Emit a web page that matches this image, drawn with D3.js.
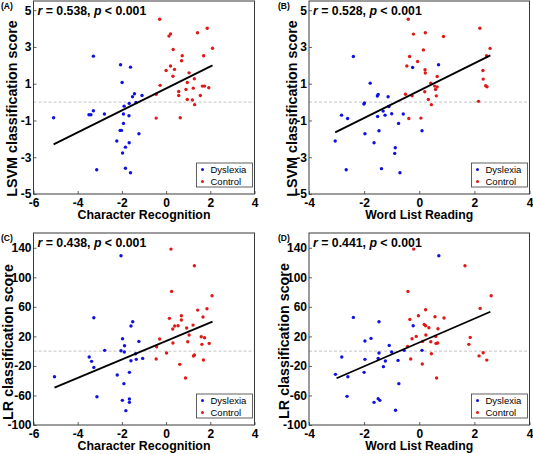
<!DOCTYPE html>
<html>
<head>
<meta charset="utf-8">
<script src="https://cdn.jsdelivr.net/npm/d3@7/dist/d3.min.js"></script>
<style>
  html, body { margin: 0; padding: 0; background: #fff; }
  svg { display: block; }
  text { font-family: "Liberation Sans", Arial, Helvetica, sans-serif; }
</style>
</head>
<body>
<svg id="chart" width="533" height="454"></svg>
<script>
// ---------------- DATA ----------------
const panelLabels = ["(A)", "(B)", "(C)", "(D)"];
const rValues = ["0.538", "0.528", "0.438", "0.441"];
const pText = "0.001";
const xTitles = ["Character Recognition", "Word List Reading", "Character Recognition", "Word List Reading"];
const yTitles = ["LSVM classification score", "LSVM classification score", "LR classification score", "LR classification score"];
const legendLabels = ["Dyslexia", "Control"];

const charRecTicks = [-6, -4, -2, 0, 2, 4];
const wordListTicks = [-4, -2, 0, 2, 4];
const lsvmTicks = [-5, -3, -1, 1, 3, 5];
const lrTicks = [-100, -60, -20, 20, 60, 100, 140];

// Panel A: Character Recognition vs LSVM score
const aDysX = [-5.09, -3.29, -3.29, -3.49, -3.40, -2.79, -3.14, -2.06, -1.99, -1.61, -2.02, -2.08, -1.93, -1.90, -1.93, -1.67, -1.68, -1.52, -1.43, -1.36, -1.09, -1.23, -2.23, -1.84, -1.67, -1.97, -1.84, -1.61];
const aDysY = [-0.85, 2.50, -0.47, -0.69, -0.69, -0.65, -3.68, 2.03, 1.07, 1.90, -1.54, -1.54, -1.16, -0.22, -0.65, -0.07, -0.74, 0.29, 0.45, -0.02, 0.36, -1.72, -2.12, -2.45, -2.21, -2.77, -3.60, -3.84];
const aConX = [-0.29, -0.27, -0.45, -0.45, 0.13, 0.20, 0.32, 0.00, 0.20, 0.38, 0.31, 0.73, 0.70, 1.04, 0.64, 0.57, 0.57, 0.90, 0.96, 0.96, 1.28, 1.23, 1.19, 1.29, 1.42, 1.70, 1.86, 2.10, 1.93, 1.55, 1.64, 1.74];
const aConY = [4.51, 0.91, 0.43, -0.87, 3.59, 3.71, 2.86, 1.72, 1.96, 1.78, 1.41, 2.52, 2.25, 1.59, -0.85, 0.58, 0.36, 0.69, 1.07, 0.14, 1.27, 0.76, 0.11, -0.14, 3.77, 2.52, 4.02, 2.93, 0.78, 0.36, 0.87, 0.87];
const aFitX = [-5.09, 2.10];
const aFitY = [-2.30, 2.00];

// Panel B: Word List Reading vs LSVM score
const bDysX = [-2.39, -1.78, -1.99, -2.01, -1.49, -1.52, -1.13, -1.10, -2.82, -2.60, -1.31, -1.24, -1.51, -1.00, -0.58, -0.75, -1.97, -1.46, -3.05, -1.64, -0.87, -0.89, -2.65, -1.37, -0.70, -0.24, 0.70, 0.10];
const bDysY = [2.48, 1.03, -0.05, -0.11, 0.42, 0.33, 0.29, -0.24, -0.71, -0.89, -0.49, -0.71, -0.78, -0.63, -0.65, -1.16, -1.72, -1.56, -2.12, -2.21, -2.48, -2.79, -3.68, -3.62, -3.84, 1.88, 2.03, -1.56];
const bConX = [-0.40, -0.21, 0.22, 0.88, 2.20, 2.57, 2.44, 0.15, -0.35, -0.06, -0.45, 0.21, 0.22, 0.65, 2.31, 2.32, 0.42, 0.56, 0.65, 0.59, 0.62, 0.20, -0.50, -0.26, 0.33, 0.44, 2.46, 2.41, 2.15, -0.38, 0.06];
const bConY = [4.51, 3.70, 3.77, 3.57, 4.02, 2.92, 2.52, 2.84, 2.48, 2.21, 1.96, 1.76, 1.58, 1.39, 1.72, 1.25, 1.03, 0.87, 0.83, 0.69, 0.34, 0.56, 0.43, 0.34, 0.14, -0.14, 0.83, 0.89, 0.04, -0.89, -0.87];
const bFitX = [-3.05, 2.58];
const bFitY = [-1.65, 2.54];

// Panel C: Character Recognition vs LR score
const cDysX = [-5.05, -3.27, -3.48, -3.37, -3.27, -2.78, -3.13, -2.04, -1.97, -1.88, -2.04, -1.89, -2.21, -1.91, -1.98, -1.82, -1.66, -1.66, -1.66, -1.59, -1.51, -1.59, -1.23, -1.38, -1.35, -1.06];
const cDysY = [-34.6, 45.3, -8.0, -13.8, -22.0, 1.1, -61.7, 129.2, 16.8, 7.4, 0.6, -1.2, -32.3, -44.0, -66.6, -80.6, -64.8, -69.3, -28.7, 34.0, 39.9, -13.0, 13.2, -3.5, -11.1, -9.8];
const cConX = [0.22, 1.28, 0.25, 2.08, 1.43, 1.85, 1.67, 0.69, 0.69, 0.15, 0.39, 0.54, 0.30, 1.22, 0.93, 1.04, -0.29, 0.31, 0.98, 1.59, 1.74, 1.62, 1.95, -0.43, 0.02, -0.45, 0.62, 1.24, 1.28, 1.69, 0.88];
const cConY = [138.2, 115.6, 80.9, 75.0, 55.6, 57.4, 46.2, 48.0, 42.1, 44.4, 34.0, 34.4, 29.9, 35.3, 31.3, 21.8, 16.4, 11.0, 12.8, 19.6, 18.2, 9.2, 10.5, 6.0, -2.6, -10.7, -17.9, -6.6, -5.3, -12.0, -36.4];
const cFitX = [-5.05, 2.10];
const cFitY = [-49.4, 40.0];

// Panel D: Word List Reading vs LR score
const dDysX = [0.71, -2.39, -1.46, -0.22, -1.75, -1.97, -1.09, -2.81, -1.97, -1.46, -1.00, -0.55, 0.10, -1.49, -1.23, -0.77, -1.30, -3.04, -2.59, -2.00, -0.74, -2.62, -1.49, -1.43, -1.64, -0.86];
const dDysY = [129.2, 45.7, 39.9, 34.4, 17.3, 13.7, 7.8, -8.0, -11.1, -2.6, -1.2, 1.1, 1.1, -9.8, -13.4, -12.5, -21.0, -31.4, -34.6, -28.7, -44.0, -61.2, -64.4, -66.6, -69.3, -80.1];
const dConX = [-0.20, 1.66, -0.41, 2.61, 2.21, 0.23, -0.03, 0.57, 0.90, -0.34, 0.18, 0.23, 0.35, 0.68, -0.11, 0.24, 0.60, -0.26, 1.85, 0.12, 0.42, 0.61, 0.67, 1.80, -0.42, 0.44, -0.31, 0.11, 2.32, 2.17, 2.45, 0.63];
const dConY = [138.2, 115.6, 80.9, 75.0, 57.9, 56.1, 48.0, 46.6, 44.8, 43.0, 36.2, 34.4, 31.7, 30.4, 20.0, 21.8, 20.0, 16.8, 18.6, 13.2, 12.8, 10.5, 11.0, 9.2, 6.5, -3.5, -10.7, -17.4, -2.1, -6.4, -12.1, -36.4];
const dFitX = [-3.00, 2.58];
const dFitY = [-36.7, 53.4];

// ---------------- LAYOUT ----------------
const svg = d3.select("#chart");
const BLUE = "#1010e0";
const RED = "#e01818";
const FRAME = "#3a3a3a";

const panels = [
  { label: panelLabels[0], r: rValues[0], xt: xTitles[0], yt: yTitles[0],
    xDomain: [-6, 4], xTicks: charRecTicks, yDomain: [-5, 5.5], yTicks: lsvmTicks,
    left: 33.5, right: 254.5, top: 1, bottom: 194,
    dys: [aDysX, aDysY], con: [aConX, aConY], fit: [aFitX, aFitY],
    yLabelX: 17, yLabelY: 108.5 },
  { label: panelLabels[1], r: rValues[1], xt: xTitles[1], yt: yTitles[1],
    xDomain: [-4, 4], xTicks: wordListTicks, yDomain: [-5, 5.5], yTicks: lsvmTicks,
    left: 309, right: 529.5, top: 1, bottom: 194,
    dys: [bDysX, bDysY], con: [bConX, bConY], fit: [bFitX, bFitY],
    yLabelX: 296.5, yLabelY: 108.5 },
  { label: panelLabels[2], r: rValues[2], xt: xTitles[2], yt: yTitles[2],
    xDomain: [-6, 4], xTicks: charRecTicks, yDomain: [-100, 160], yTicks: lrTicks,
    left: 33.5, right: 254.5, top: 233, bottom: 425,
    dys: [cDysX, cDysY], con: [cConX, cConY], fit: [cFitX, cFitY],
    yLabelX: 13, yLabelY: 342 },
  { label: panelLabels[3], r: rValues[3], xt: xTitles[3], yt: yTitles[3],
    xDomain: [-4, 4], xTicks: wordListTicks, yDomain: [-100, 160], yTicks: lrTicks,
    left: 309, right: 529.5, top: 233, bottom: 425,
    dys: [dDysX, dDysY], con: [dConX, dConY], fit: [dFitX, dFitY],
    yLabelX: 288.5, yLabelY: 341 }
];

panels.forEach((p, i) => {
  const x = d3.scaleLinear().domain(p.xDomain).range([p.left, p.right]);
  const y = d3.scaleLinear().domain(p.yDomain).range([p.bottom, p.top]);
  const g = svg.append("g");
  const xTitleWidth = (i % 2 === 0) ? 133 : 108;

  g.append("rect")
    .attr("x", p.left).attr("y", p.top)
    .attr("width", p.right - p.left).attr("height", p.bottom - p.top)
    .attr("fill", "#fff");

  // dashed zero line
  g.append("line")
    .attr("x1", p.left).attr("x2", p.right)
    .attr("y1", y(0)).attr("y2", y(0))
    .attr("stroke", "#c4c4c4").attr("stroke-width", 1)
    .attr("stroke-dasharray", "3,2");

  // axes
  const fmt = d => String(d);
  const xAxis = d3.axisBottom(x).tickValues(p.xTicks).tickSizeInner(-3).tickSizeOuter(0).tickPadding(6).tickFormat(fmt);
  const yAxis = d3.axisLeft(y).tickValues(p.yTicks).tickSizeInner(-3).tickSizeOuter(0).tickPadding(2).tickFormat(fmt);
  const gx = g.append("g").attr("transform", `translate(0,${p.bottom})`).call(xAxis);
  const gy = g.append("g").attr("transform", `translate(${p.left},0)`).call(yAxis);
  [gx, gy].forEach(ax => {
    ax.select(".domain").remove();
    ax.selectAll(".tick line").attr("stroke", FRAME).attr("stroke-width", 0.8);
    ax.selectAll(".tick text")
      .attr("font-size", 12).attr("font-weight", "bold").attr("fill", "#000")
      .style("font-family", '"Liberation Sans", Arial, sans-serif');
  });
  gx.selectAll(".tick text").attr("dy", "0.71em").attr("y", 4.5);

  // frame
  g.append("rect")
    .attr("x", p.left).attr("y", p.top)
    .attr("width", p.right - p.left).attr("height", p.bottom - p.top)
    .attr("fill", "none").attr("stroke", FRAME).attr("stroke-width", 1);

  // points
  const drawPts = (arr, color) => {
    g.append("g").selectAll("circle")
      .data(arr[0].map((v, k) => [v, arr[1][k]]))
      .join("circle")
      .attr("cx", d => x(d[0])).attr("cy", d => y(d[1]))
      .attr("r", 1.7).attr("fill", color);
  };
  drawPts(p.dys, BLUE);
  drawPts(p.con, RED);

  // fit line
  g.append("line")
    .attr("x1", x(p.fit[0][0])).attr("y1", y(p.fit[1][0]))
    .attr("x2", x(p.fit[0][1])).attr("y2", y(p.fit[1][1]))
    .attr("stroke", "#000").attr("stroke-width", 1.8);

  // r text
  const rt = g.append("text")
    .attr("x", p.left + 4).attr("y", p.top + 13.5)
    .attr("font-size", 12.3).attr("font-weight", "bold");
  rt.append("tspan").attr("font-style", "italic").text("r");
  rt.append("tspan").text(" = " + p.r + ", ");
  rt.append("tspan").attr("font-style", "italic").text("p");
  rt.append("tspan").text(" < " + pText);

  // panel label
  g.append("text")
    .attr("x", (i % 2 === 0) ? 1 : 278).attr("y", p.top + 7.5)
    .attr("font-size", 8.5).attr("font-weight", "bold")
    .text(p.label);

  // x title
  g.append("text")
    .attr("x", (p.left + p.right) / 2).attr("y", p.bottom + 25)
    .attr("text-anchor", "middle")
    .attr("font-size", 13.5).attr("font-weight", "bold")
    .attr("textLength", xTitleWidth).attr("lengthAdjust", "spacingAndGlyphs")
    .text(p.xt);

  // y title
  g.append("text")
    .attr("transform", `translate(${p.yLabelX},${p.yLabelY}) rotate(-90)`)
    .attr("text-anchor", "middle")
    .attr("font-size", 14.3).attr("font-weight", "bold")
    .text(p.yt);

  // legend
  const lw = 56, lh = 24;
  const lx = p.right - 2 - lw, ly = p.bottom - 7 - lh;
  const lg = g.append("g").attr("transform", `translate(${lx},${ly})`);
  lg.append("rect").attr("width", lw).attr("height", lh)
    .attr("fill", "#fff").attr("stroke", FRAME).attr("stroke-width", 0.8);
  [BLUE, RED].forEach((c, k) => {
    lg.append("circle").attr("cx", 6).attr("cy", 6.5 + k * 12).attr("r", 1.5).attr("fill", c);
    lg.append("text").attr("x", 14).attr("y", 9.8 + k * 12)
      .attr("font-size", 9.5).attr("fill", "#000").text(legendLabels[k]);
  });
});
</script>
</body>
</html>
